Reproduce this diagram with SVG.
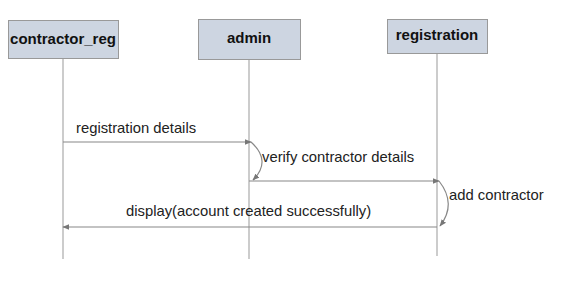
<svg xmlns="http://www.w3.org/2000/svg" width="572" height="304" viewBox="0 0 572 304">
  <style>
    .box { fill: #cdd5e1; stroke: #999999; stroke-width: 1; }
    .title { font-family: "Liberation Sans", Arial, sans-serif; font-size: 15px; font-weight: bold; fill: #111111; text-anchor: middle; }
    .life { stroke: #999999; stroke-width: 1; fill: none; }
    .msg { stroke: #888888; stroke-width: 1.2; fill: none; marker-end: url(#arrow); }
    .lbl { font-family: "Liberation Sans", Arial, sans-serif; font-size: 14.8px; fill: #222222; }
  </style>
  <defs>
    <marker id="arrow" viewBox="0 0 10 10" refX="9" refY="5" markerWidth="7" markerHeight="7" orient="auto" markerUnits="userSpaceOnUse">
      <path d="M0,1 L10,5 L0,9 z" fill="#777777"/>
    </marker>
  </defs>
  <rect width="572" height="304" fill="#ffffff"/>

  <g id="contractor_reg">
    <line class="life" x1="63" y1="58" x2="63" y2="259"/>
    <rect class="box" x="8.5" y="20.5" width="110" height="38"/>
    <text class="title" x="63" y="44">contractor_reg</text>
  </g>

  <g id="admin">
    <line class="life" x1="249" y1="59" x2="249" y2="259"/>
    <rect class="box" x="198.5" y="19.5" width="102" height="40"/>
    <text class="title" x="249" y="43">admin</text>
  </g>

  <g id="registration">
    <line class="life" x1="437" y1="53" x2="437" y2="256"/>
    <rect class="box" x="387.5" y="19.5" width="100" height="34"/>
    <text class="title" x="437" y="40">registration</text>
  </g>

  <g id="connectors">
    <path class="msg" d="M63,142 L251,142"/>
    <text class="lbl" x="76" y="133">registration details</text>

    <path class="msg" d="M251,142 Q272,161 253,180"/>
    <text class="lbl" x="262" y="162">verify contractor details</text>

    <path class="msg" d="M249,181 L439,181"/>

    <path class="msg" d="M439,181 Q457,204 440,226"/>
    <text class="lbl" x="449" y="200">add contractor</text>

    <path class="msg" d="M437,227 L63,227"/>
    <text class="lbl" x="126" y="216">display(account created successfully)</text>
  </g>
</svg>
